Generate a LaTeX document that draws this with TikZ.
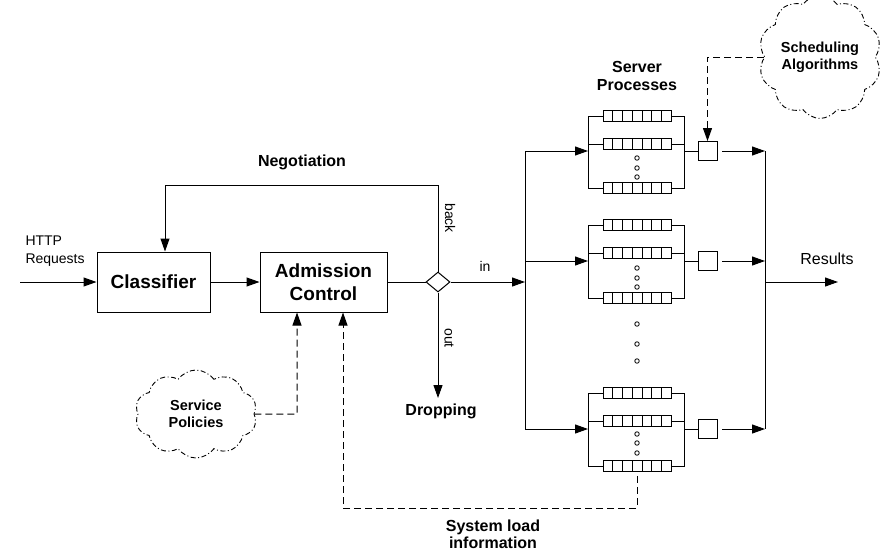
\documentclass[tikz,border=0pt]{standalone}
\usepackage{fontspec}
\setmainfont{Liberation Sans}
\usetikzlibrary{arrows.meta,shapes.geometric,shapes.symbols,calc}
\begin{document}
\begin{tikzpicture}[x=1pt,y=-1pt,
  line width=1pt,
  box/.style={draw, line width=1pt, inner sep=0pt, align=center, font=\bfseries\fontsize{19}{23}\selectfont},
  arr/.style={-{Triangle[length=13pt,width=9pt]}},
  dsh/.style={dash pattern=on 7pt off 4pt},
  lbl/.style={inner sep=0pt, align=center, font=\fontsize{14}{18}\selectfont},
  blbl/.style={inner sep=0pt, align=center, font=\bfseries\fontsize{16}{18}\selectfont},
  qbox/.style={draw, line width=0.8pt, minimum width=68pt, minimum height=11pt, inner sep=0pt},
  sqbox/.style={draw, line width=0.9pt, minimum size=19pt, inner sep=0pt},
  dotc/.style={circle, draw, line width=0.8pt, minimum size=4.5pt, inner sep=0pt},
  cloudbox/.style={cloud, cloud puffs=10, cloud puff arc=110, draw, line width=0.9pt,
     dash pattern=on 5pt off 2.5pt on 1pt off 2.5pt, inner sep=0pt, align=center,
     font=\bfseries\fontsize{14.5}{17}\selectfont},
]
\useasboundingbox (0,0) rectangle (880,554);

% main boxes
\node[box, minimum width=113pt, minimum height=60pt] (cls) at (153.5,282) {Classifier};
\node[box, minimum width=127pt, minimum height=60pt] (adm) at (323.5,282) {Admission\\Control};
\node[diamond, draw, minimum width=24pt, minimum height=20pt, inner sep=0pt] (dia) at (438,282) {};

\node[lbl, anchor=west, align=left] (http) at (25,251) {HTTP\\Requests};
\coordinate (src) at (20,282);
\draw[arr] (src) -- (cls);
\draw[arr] (cls) -- (adm);
\draw (adm) -- (dia);

% negotiation
\coordinate (negl) at (165,185);
\draw[arr] (dia.north) |- (negl) -- (negl |- cls.north);
\node[blbl] (neg) at (302,162) {Negotiation};
\node[lbl, rotate=-90] (back) at (450,218) {back};

% dropping
\coordinate (drop) at (438,398);
\draw[arr] (dia.south) -- (drop);
\node[lbl, rotate=-90] (out) at (449,338) {out};
\node[blbl] (dropl) at (441,411) {Dropping};

% in
\coordinate (inb) at (525,282);
\draw[arr] (dia.east) -- (inb);
\node[lbl] (in) at (485,266) {in};

% server blocks
\foreach \b/\qa/\qb/\qc/\yi/\da/\db/\dc in {t/116/144/188/151/158/168/177, m/225/253/298/261/268/278/287, b/393/421/466/429/434/443/453} {
  \foreach \k/\qy in {1/\qa,2/\qb,3/\qc} {
    \node[qbox] (q\b\k) at (637,\qy) {};
    \foreach \i in {1,...,6}
      \draw[line width=0.8pt] ($(q\b\k.north west)!\i/7!(q\b\k.north east)$) -- ($(q\b\k.south west)!\i/7!(q\b\k.south east)$);
  }
  \coordinate (lt\b) at (588,\qa);
  \coordinate (lb\b) at (588,\qc);
  \coordinate (rt\b) at (684,\qa);
  \coordinate (rb\b) at (684,\qc);
  \coordinate (lin\b) at (588,\yi);
  \coordinate (rin\b) at (684,\yi);
  \coordinate (src\b) at (525,\yi);
  \coordinate (out\b) at (765,\yi);
  \draw (q\b1.west) -- (lt\b) -- (lb\b) -- (q\b3.west);
  \draw (q\b2.west) -- (q\b2.west -| lt\b);
  \draw (q\b1.east) -- (rt\b) -- (rb\b) -- (q\b3.east);
  \draw (q\b2.east) -- (q\b2.east -| rt\b);
  \node[sqbox] (sq\b) at (707.5,\yi) {};
  \draw (rin\b) -- (sq\b.west);
  \draw[arr, shorten <=5pt] (sq\b.east) -- (out\b);
  \draw[arr] (src\b) -- (lin\b);
  \node[dotc] (da\b) at (637,\da) {};
  \node[dotc] (db\b) at (637,\db) {};
  \node[dotc] (dc\b) at (637,\dc) {};
}
\node[dotc] (g1) at (637,324) {};
\node[dotc] (g2) at (637,344) {};
\node[dotc] (g3) at (637,361) {};

% buses
\draw (srct) -- (srcb);
\draw (outt) -- (outb);
\coordinate (resa) at (765,282);
\coordinate (resb) at (838,282);
\draw[arr] (resa) -- (resb);
\node[lbl, font=\fontsize{16}{18}\selectfont] (res) at (827,259) {Results};

\node[blbl] (spl) at (637,76) {Server\\Processes};

% clouds
\node[cloudbox, minimum width=122pt, minimum height=88pt] (sp) at (196,414) {Service\\Policies};
\node[cloudbox, minimum width=116pt, minimum height=88pt] (sa) at (820,57) {Scheduling\\Algorithms};

\coordinate (spc) at (297,414);
\draw[dsh, arr] (sp.east) -- (spc) -- (spc |- adm.south);
\draw[dsh, arr] (sa.west) -| (sqt.north);

\coordinate (slc) at (343,508);
\draw[dsh, arr] ([yshift=-4pt]qb3.south) |- (slc) -- (slc |- adm.south);
\node[blbl, font=\bfseries\fontsize{16}{17}\selectfont] (sysl) at (493,534) {System load\\information};
\end{tikzpicture}
\end{document}
